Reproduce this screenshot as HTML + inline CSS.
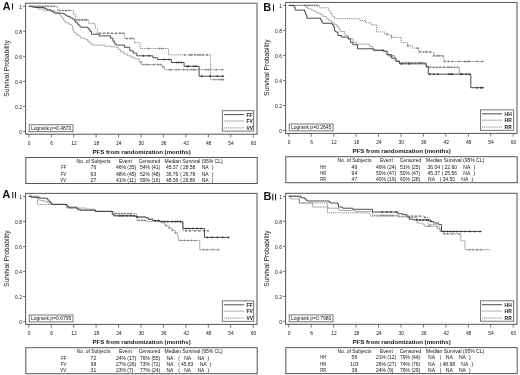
<!DOCTYPE html>
<html><head><meta charset="utf-8"><style>
html,body{margin:0;padding:0;background:#fff;}
svg{display:block;font-family:"Liberation Sans", sans-serif;filter:blur(0.3px);}
text{fill:#151515;}
</style></head><body>
<svg width="520" height="375" viewBox="0 0 520 375">
<rect width="520" height="375" fill="#fff"/>
<g transform="translate(0,0)">
<rect x="25.6" y="3.2" width="231.4" height="131.0" fill="none" stroke="#555" stroke-width="1"/>
<line x1="23.0" y1="131.30" x2="25.6" y2="131.30" stroke="#555" stroke-width="0.8"/>
<text x="21.9" y="133.50" font-size="4.9" text-anchor="end" fill="#444">0</text>
<line x1="23.0" y1="106.30" x2="25.6" y2="106.30" stroke="#555" stroke-width="0.8"/>
<text x="21.9" y="108.50" font-size="4.9" text-anchor="end" fill="#444">0.2</text>
<line x1="23.0" y1="81.30" x2="25.6" y2="81.30" stroke="#555" stroke-width="0.8"/>
<text x="21.9" y="83.50" font-size="4.9" text-anchor="end" fill="#444">0.4</text>
<line x1="23.0" y1="56.30" x2="25.6" y2="56.30" stroke="#555" stroke-width="0.8"/>
<text x="21.9" y="58.50" font-size="4.9" text-anchor="end" fill="#444">0.6</text>
<line x1="23.0" y1="31.30" x2="25.6" y2="31.30" stroke="#555" stroke-width="0.8"/>
<text x="21.9" y="33.50" font-size="4.9" text-anchor="end" fill="#444">0.8</text>
<line x1="23.0" y1="6.30" x2="25.6" y2="6.30" stroke="#555" stroke-width="0.8"/>
<text x="21.9" y="8.50" font-size="4.9" text-anchor="end" fill="#444">1</text>
<line x1="28.80" y1="134.2" x2="28.80" y2="137.5" stroke="#555" stroke-width="0.8"/>
<text x="29.10" y="144.5" font-size="4.9" text-anchor="middle" fill="#444">0</text>
<line x1="51.24" y1="134.2" x2="51.24" y2="137.5" stroke="#555" stroke-width="0.8"/>
<text x="51.54" y="144.5" font-size="4.9" text-anchor="middle" fill="#444">6</text>
<line x1="73.68" y1="134.2" x2="73.68" y2="137.5" stroke="#555" stroke-width="0.8"/>
<text x="73.98" y="144.5" font-size="4.9" text-anchor="middle" fill="#444">12</text>
<line x1="96.12" y1="134.2" x2="96.12" y2="137.5" stroke="#555" stroke-width="0.8"/>
<text x="96.42" y="144.5" font-size="4.9" text-anchor="middle" fill="#444">18</text>
<line x1="118.56" y1="134.2" x2="118.56" y2="137.5" stroke="#555" stroke-width="0.8"/>
<text x="118.86" y="144.5" font-size="4.9" text-anchor="middle" fill="#444">24</text>
<line x1="141.00" y1="134.2" x2="141.00" y2="137.5" stroke="#555" stroke-width="0.8"/>
<text x="141.30" y="144.5" font-size="4.9" text-anchor="middle" fill="#444">30</text>
<line x1="163.44" y1="134.2" x2="163.44" y2="137.5" stroke="#555" stroke-width="0.8"/>
<text x="163.74" y="144.5" font-size="4.9" text-anchor="middle" fill="#444">36</text>
<line x1="185.88" y1="134.2" x2="185.88" y2="137.5" stroke="#555" stroke-width="0.8"/>
<text x="186.18" y="144.5" font-size="4.9" text-anchor="middle" fill="#444">42</text>
<line x1="208.32" y1="134.2" x2="208.32" y2="137.5" stroke="#555" stroke-width="0.8"/>
<text x="208.62" y="144.5" font-size="4.9" text-anchor="middle" fill="#444">48</text>
<line x1="230.76" y1="134.2" x2="230.76" y2="137.5" stroke="#555" stroke-width="0.8"/>
<text x="231.06" y="144.5" font-size="4.9" text-anchor="middle" fill="#444">54</text>
<line x1="253.20" y1="134.2" x2="253.20" y2="137.5" stroke="#555" stroke-width="0.8"/>
<text x="253.50" y="144.5" font-size="4.9" text-anchor="middle" fill="#444">60</text>
<text x="141.6" y="154.1" font-size="6.1" font-weight="bold" text-anchor="middle" fill="#333">PFS from randomization (months)</text>
<text transform="translate(8.7,68.5) rotate(-90)" font-size="6.65" text-anchor="middle" fill="#333">Survival Probability</text>
<rect x="29.2" y="124.8" width="43.8" height="6.9" fill="#fff" stroke="#555" stroke-width="0.8"/>
<text x="30.9" y="130.3" font-size="5.0" fill="#333">Logrank p=0.4870</text>
<rect x="222.3" y="110.7" width="31.399999999999977" height="20.4" fill="#fff" stroke="#555" stroke-width="0.8"/>
<line x1="223.8" y1="114.6" x2="244.0" y2="114.6" stroke="#3a3a3a" stroke-width="0.9" fill="none"/>
<text x="246.5" y="116.6" font-size="4.9" font-weight="bold" fill="#333">FF</text>
<line x1="223.8" y1="121.0" x2="244.0" y2="121.0" stroke="#9a9a9a" stroke-width="0.8" fill="none"/>
<text x="246.5" y="123.0" font-size="4.9" font-weight="bold" fill="#333">FV</text>
<line x1="223.8" y1="127.9" x2="244.0" y2="127.9" stroke="#6a6a6a" stroke-width="0.8" fill="none" stroke-dasharray="1.2 0.9"/>
<text x="246.5" y="129.9" font-size="4.9" font-weight="bold" fill="#333">VV</text>
<rect x="25.8" y="157.5" width="231.4" height="26.0" fill="none" stroke="#555" stroke-width="1"/>
<text x="76.5" y="163.0" font-size="5.0" fill="#333">No. of Subjects</text>
<text x="119.0" y="163.0" font-size="5.0" fill="#333">Event</text>
<text x="138.7" y="163.0" font-size="5.0" fill="#333">Censored</text>
<text x="164.5" y="163.0" font-size="5.0" fill="#333">Median Survival (95% CL)</text>
<text x="61.30" y="169.40" font-size="5.0" textLength="5.0" lengthAdjust="spacingAndGlyphs" fill="#333">FF</text>
<text x="93.4" y="169.40" font-size="5.0" text-anchor="middle" fill="#333">76</text>
<text x="115.9" y="169.40" font-size="5.0" fill="#333">46% (35)</text>
<text x="140" y="169.40" font-size="5.0" fill="#333">54% (41)</text>
<text x="165.90" y="169.40" font-size="5.0" fill="#333">45.37</text>
<text x="180.20" y="169.40" font-size="5.0" fill="#333">(</text>
<text x="182.90" y="169.40" font-size="5.0" fill="#333">28.58</text>
<text x="201.70" y="169.40" font-size="5.0" fill="#333">NA</text>
<text x="211.80" y="169.40" font-size="5.0" fill="#333">)</text>
<text x="60.90" y="175.85" font-size="5.0" textLength="5.4" lengthAdjust="spacingAndGlyphs" fill="#333">FV</text>
<text x="93.4" y="175.85" font-size="5.0" text-anchor="middle" fill="#333">93</text>
<text x="115.9" y="175.85" font-size="5.0" fill="#333">48% (45)</text>
<text x="140" y="175.85" font-size="5.0" fill="#333">52% (48)</text>
<text x="165.90" y="175.85" font-size="5.0" fill="#333">36.76</text>
<text x="180.20" y="175.85" font-size="5.0" fill="#333">(</text>
<text x="182.90" y="175.85" font-size="5.0" fill="#333">26.78</text>
<text x="201.70" y="175.85" font-size="5.0" fill="#333">NA</text>
<text x="211.80" y="175.85" font-size="5.0" fill="#333">)</text>
<text x="60.30" y="182.30" font-size="5.0" textLength="6.0" lengthAdjust="spacingAndGlyphs" fill="#333">VV</text>
<text x="93.4" y="182.30" font-size="5.0" text-anchor="middle" fill="#333">27</text>
<text x="115.9" y="182.30" font-size="5.0" fill="#333">41% (11)</text>
<text x="140" y="182.30" font-size="5.0" fill="#333">59% (16)</text>
<text x="165.90" y="182.30" font-size="5.0" fill="#333">48.36</text>
<text x="180.20" y="182.30" font-size="5.0" fill="#333">(</text>
<text x="182.90" y="182.30" font-size="5.0" fill="#333">29.80</text>
<text x="201.70" y="182.30" font-size="5.0" fill="#333">NA</text>
<text x="211.80" y="182.30" font-size="5.0" fill="#333">)</text>
</g>
<path d="M28.80,6.30 H32.00 V7.50 H38.00 V9.00 H44.00 V10.80 H55.00 V12.00 H58.30 V13.40 H59.50 V14.50 H60.60 V15.70 H61.70 V17.50 H62.90 V19.20 H64.00 V21.00 H65.20 V22.60 H68.70 V24.30 H71.60 V25.50 H72.70 V30.10 H73.90 V32.40 H76.00 V34.70 H78.30 V35.90 H80.60 V38.20 H84.70 V39.30 H87.50 V41.10 H89.50 V43.00 H91.60 V44.50 H93.30 V45.10 H104.80 V46.30 H110.60 V46.80 H116.00 V47.30 H118.30 V49.50 H120.60 V51.90 H124.00 V54.00 H127.50 V55.80 H131.00 V57.30 H134.50 V58.80 H139.10 V62.30 H141.40 V64.60 H162.20 V66.90 H164.50 V69.70 H224.00 V69.70" stroke="#9a9a9a" stroke-width="0.8" fill="none"/>
<path d="M140.00,62.30h2.0M141.00,61.30v2.0M142.90,64.60h2.0M143.90,63.60v2.0M145.80,64.60h2.0M146.80,63.60v2.0M148.00,64.60h2.0M149.00,63.60v2.0M152.70,64.60h2.0M153.70,63.60v2.0M157.30,64.60h2.0M158.30,63.60v2.0M159.60,64.60h2.0M160.60,63.60v2.0M162.00,66.90h2.0M163.00,65.90v2.0M168.80,69.70h2.0M169.80,68.70v2.0M170.00,69.70h2.0M171.00,68.70v2.0M175.20,69.70h2.0M176.20,68.70v2.0M178.00,69.70h2.0M179.00,68.70v2.0M182.70,69.70h2.0M183.70,68.70v2.0M186.50,69.70h2.0M187.50,68.70v2.0M190.00,69.70h2.0M191.00,68.70v2.0M192.30,69.70h2.0M193.30,68.70v2.0M194.00,69.70h2.0M195.00,68.70v2.0M205.00,69.70h2.0M206.00,68.70v2.0M207.30,69.70h2.0M208.30,68.70v2.0M215.40,69.70h2.0M216.40,68.70v2.0M221.20,69.70h2.0M222.20,68.70v2.0" stroke="#888" stroke-width="0.8" fill="none"/>
<path d="M28.80,6.30 H57.60 V10.50 H73.30 V14.30 H75.60 V19.90 H88.70 V23.50 H94.50 V24.90 H95.50 V28.40 H97.30 V33.30 H124.60 V38.50 H134.50 V42.70 H140.20 V48.50 H168.50 V54.90 H210.60 V79.60 H224.00 V79.60" stroke="#6a6a6a" stroke-width="0.8" fill="none" stroke-dasharray="1.2 0.9"/>
<path d="M36.50,6.30h2.0M37.50,5.30v2.0M39.00,6.30h2.0M40.00,5.30v2.0M41.70,6.30h2.0M42.70,5.30v2.0M44.50,6.30h2.0M45.50,5.30v2.0M47.00,6.30h2.0M48.00,5.30v2.0M50.00,6.30h2.0M51.00,5.30v2.0M53.00,6.30h2.0M54.00,5.30v2.0M59.00,10.50h2.0M60.00,9.50v2.0M62.00,10.50h2.0M63.00,9.50v2.0M65.00,10.50h2.0M66.00,9.50v2.0M68.00,10.50h2.0M69.00,9.50v2.0M76.00,19.90h2.0M77.00,18.90v2.0M78.50,19.90h2.0M79.50,18.90v2.0M81.00,19.90h2.0M82.00,18.90v2.0M83.50,19.90h2.0M84.50,18.90v2.0M85.50,19.90h2.0M86.50,18.90v2.0M99.00,33.30h2.0M100.00,32.30v2.0M103.00,33.30h2.0M104.00,32.30v2.0M107.00,33.30h2.0M108.00,32.30v2.0M111.00,33.30h2.0M112.00,32.30v2.0M115.00,33.30h2.0M116.00,32.30v2.0M119.00,33.30h2.0M120.00,32.30v2.0M122.00,33.30h2.0M123.00,32.30v2.0M125.80,38.50h2.0M126.80,37.50v2.0M129.00,38.50h2.0M130.00,37.50v2.0M131.50,38.50h2.0M132.50,37.50v2.0M147.50,48.50h2.0M148.50,47.50v2.0M158.50,48.50h2.0M159.50,47.50v2.0M160.80,48.50h2.0M161.80,47.50v2.0M183.70,54.90h2.0M184.70,53.90v2.0M188.80,54.90h2.0M189.80,53.90v2.0M190.60,54.90h2.0M191.60,53.90v2.0M194.00,54.90h2.0M195.00,53.90v2.0M196.90,54.90h2.0M197.90,53.90v2.0M199.20,54.90h2.0M200.20,53.90v2.0M202.10,54.90h2.0M203.10,53.90v2.0M206.20,54.90h2.0M207.20,53.90v2.0M213.60,79.60h2.0M214.60,78.60v2.0M217.60,79.60h2.0M218.60,78.60v2.0M220.00,79.60h2.0M221.00,78.60v2.0M222.40,79.60h2.0M223.40,78.60v2.0" stroke="#777" stroke-width="0.8" fill="none"/>
<path d="M28.80,6.30 H34.90 V7.50 H44.50 V8.60 H46.80 V9.80 H51.00 V11.10 H53.00 V12.20 H54.30 V13.20 H63.40 V14.00 H65.20 V15.10 H67.00 V16.30 H69.30 V16.80 H70.40 V18.00 H72.70 V19.20 H74.50 V20.90 H75.60 V22.60 H77.30 V24.30 H79.10 V26.10 H80.80 V27.20 H88.10 V29.00 H89.80 V31.30 H91.60 V34.20 H99.10 V35.90 H110.60 V38.20 H112.90 V41.10 H114.70 V44.00 H116.40 V45.10 H124.50 V47.30 H129.80 V50.80 H133.30 V53.10 H136.80 V55.80 H152.90 V57.70 H157.50 V59.50 H171.40 V62.50 H184.10 V66.30 H199.10 V76.20 H224.00 V76.20" stroke="#3a3a3a" stroke-width="0.9" fill="none"/>
<path d="M142.30,55.80h2.0M143.30,54.80v2.0M148.10,55.80h2.0M149.10,54.80v2.0M163.00,59.50h2.0M164.00,58.50v2.0M168.30,59.50h2.0M169.30,58.50v2.0M175.80,62.50h2.0M176.80,61.50v2.0M178.00,62.50h2.0M179.00,61.50v2.0M180.40,62.50h2.0M181.40,61.50v2.0M186.00,66.30h2.0M187.00,65.30v2.0M187.50,66.30h2.0M188.50,65.30v2.0M192.70,66.30h2.0M193.70,65.30v2.0M195.00,66.30h2.0M196.00,65.30v2.0M200.70,76.20h2.0M201.70,75.20v2.0M209.00,76.20h2.0M210.00,75.20v2.0M216.30,76.20h2.0M217.30,75.20v2.0M221.60,76.20h2.0M222.60,75.20v2.0" stroke="#333" stroke-width="0.8" fill="none"/>
<g transform="translate(260,-0.8)">
<rect x="25.6" y="3.2" width="231.4" height="131.0" fill="none" stroke="#555" stroke-width="1"/>
<line x1="23.0" y1="131.30" x2="25.6" y2="131.30" stroke="#555" stroke-width="0.8"/>
<text x="21.9" y="133.50" font-size="4.9" text-anchor="end" fill="#444">0</text>
<line x1="23.0" y1="106.30" x2="25.6" y2="106.30" stroke="#555" stroke-width="0.8"/>
<text x="21.9" y="108.50" font-size="4.9" text-anchor="end" fill="#444">0.2</text>
<line x1="23.0" y1="81.30" x2="25.6" y2="81.30" stroke="#555" stroke-width="0.8"/>
<text x="21.9" y="83.50" font-size="4.9" text-anchor="end" fill="#444">0.4</text>
<line x1="23.0" y1="56.30" x2="25.6" y2="56.30" stroke="#555" stroke-width="0.8"/>
<text x="21.9" y="58.50" font-size="4.9" text-anchor="end" fill="#444">0.6</text>
<line x1="23.0" y1="31.30" x2="25.6" y2="31.30" stroke="#555" stroke-width="0.8"/>
<text x="21.9" y="33.50" font-size="4.9" text-anchor="end" fill="#444">0.8</text>
<line x1="23.0" y1="6.30" x2="25.6" y2="6.30" stroke="#555" stroke-width="0.8"/>
<text x="21.9" y="8.50" font-size="4.9" text-anchor="end" fill="#444">1</text>
<line x1="28.80" y1="134.2" x2="28.80" y2="137.5" stroke="#555" stroke-width="0.8"/>
<text x="29.10" y="144.5" font-size="4.9" text-anchor="middle" fill="#444">0</text>
<line x1="51.24" y1="134.2" x2="51.24" y2="137.5" stroke="#555" stroke-width="0.8"/>
<text x="51.54" y="144.5" font-size="4.9" text-anchor="middle" fill="#444">6</text>
<line x1="73.68" y1="134.2" x2="73.68" y2="137.5" stroke="#555" stroke-width="0.8"/>
<text x="73.98" y="144.5" font-size="4.9" text-anchor="middle" fill="#444">12</text>
<line x1="96.12" y1="134.2" x2="96.12" y2="137.5" stroke="#555" stroke-width="0.8"/>
<text x="96.42" y="144.5" font-size="4.9" text-anchor="middle" fill="#444">18</text>
<line x1="118.56" y1="134.2" x2="118.56" y2="137.5" stroke="#555" stroke-width="0.8"/>
<text x="118.86" y="144.5" font-size="4.9" text-anchor="middle" fill="#444">24</text>
<line x1="141.00" y1="134.2" x2="141.00" y2="137.5" stroke="#555" stroke-width="0.8"/>
<text x="141.30" y="144.5" font-size="4.9" text-anchor="middle" fill="#444">30</text>
<line x1="163.44" y1="134.2" x2="163.44" y2="137.5" stroke="#555" stroke-width="0.8"/>
<text x="163.74" y="144.5" font-size="4.9" text-anchor="middle" fill="#444">36</text>
<line x1="185.88" y1="134.2" x2="185.88" y2="137.5" stroke="#555" stroke-width="0.8"/>
<text x="186.18" y="144.5" font-size="4.9" text-anchor="middle" fill="#444">42</text>
<line x1="208.32" y1="134.2" x2="208.32" y2="137.5" stroke="#555" stroke-width="0.8"/>
<text x="208.62" y="144.5" font-size="4.9" text-anchor="middle" fill="#444">48</text>
<line x1="230.76" y1="134.2" x2="230.76" y2="137.5" stroke="#555" stroke-width="0.8"/>
<text x="231.06" y="144.5" font-size="4.9" text-anchor="middle" fill="#444">54</text>
<line x1="253.20" y1="134.2" x2="253.20" y2="137.5" stroke="#555" stroke-width="0.8"/>
<text x="253.50" y="144.5" font-size="4.9" text-anchor="middle" fill="#444">60</text>
<text x="141.6" y="154.1" font-size="6.1" font-weight="bold" text-anchor="middle" fill="#333">PFS from randomization (months)</text>
<text transform="translate(8.7,68.5) rotate(-90)" font-size="6.65" text-anchor="middle" fill="#333">Survival Probability</text>
<rect x="29.2" y="124.8" width="43.8" height="6.9" fill="#fff" stroke="#555" stroke-width="0.8"/>
<text x="30.9" y="130.3" font-size="5.0" fill="#333">Logrank p=0.2645</text>
<rect x="220.4" y="110.7" width="33.29999999999998" height="20.4" fill="#fff" stroke="#555" stroke-width="0.8"/>
<line x1="221.9" y1="114.6" x2="242.1" y2="114.6" stroke="#3a3a3a" stroke-width="0.9" fill="none"/>
<text x="244.6" y="116.6" font-size="4.9" font-weight="bold" fill="#333">HH</text>
<line x1="221.9" y1="121.0" x2="242.1" y2="121.0" stroke="#9a9a9a" stroke-width="0.8" fill="none"/>
<text x="244.6" y="123.0" font-size="4.9" font-weight="bold" fill="#333">HR</text>
<line x1="221.9" y1="127.9" x2="242.1" y2="127.9" stroke="#6a6a6a" stroke-width="0.8" fill="none" stroke-dasharray="1.2 0.9"/>
<text x="244.6" y="129.9" font-size="4.9" font-weight="bold" fill="#333">RR</text>
<rect x="25.8" y="157.5" width="231.4" height="26.0" fill="none" stroke="#555" stroke-width="1"/>
<text x="77.5" y="163.0" font-size="5.0" fill="#333">No. of Subjects</text>
<text x="120.0" y="163.0" font-size="5.0" fill="#333">Event</text>
<text x="139.7" y="163.0" font-size="5.0" fill="#333">Censored</text>
<text x="166.0" y="163.0" font-size="5.0" fill="#333">Median Survival (95% CL)</text>
<text x="60.30" y="169.40" font-size="5.0" textLength="6.0" lengthAdjust="spacingAndGlyphs" fill="#333">HH</text>
<text x="94.4" y="169.40" font-size="5.0" text-anchor="middle" fill="#333">49</text>
<text x="115.9" y="169.40" font-size="5.0" fill="#333">49% (24)</text>
<text x="140" y="169.40" font-size="5.0" fill="#333">51% (25)</text>
<text x="167.50" y="169.40" font-size="5.0" fill="#333">36.04</text>
<text x="181.80" y="169.40" font-size="5.0" fill="#333">(</text>
<text x="184.50" y="169.40" font-size="5.0" fill="#333">22.60</text>
<text x="203.30" y="169.40" font-size="5.0" fill="#333">NA</text>
<text x="213.40" y="169.40" font-size="5.0" fill="#333">)</text>
<text x="60.30" y="175.85" font-size="5.0" textLength="6.0" lengthAdjust="spacingAndGlyphs" fill="#333">HR</text>
<text x="94.4" y="175.85" font-size="5.0" text-anchor="middle" fill="#333">94</text>
<text x="115.9" y="175.85" font-size="5.0" fill="#333">50% (47)</text>
<text x="140" y="175.85" font-size="5.0" fill="#333">50% (47)</text>
<text x="167.50" y="175.85" font-size="5.0" fill="#333">45.37</text>
<text x="181.80" y="175.85" font-size="5.0" fill="#333">(</text>
<text x="184.50" y="175.85" font-size="5.0" fill="#333">25.56</text>
<text x="203.30" y="175.85" font-size="5.0" fill="#333">NA</text>
<text x="213.40" y="175.85" font-size="5.0" fill="#333">)</text>
<text x="60.30" y="182.30" font-size="5.0" textLength="6.0" lengthAdjust="spacingAndGlyphs" fill="#333">RR</text>
<text x="94.4" y="182.30" font-size="5.0" text-anchor="middle" fill="#333">47</text>
<text x="115.9" y="182.30" font-size="5.0" fill="#333">40% (19)</text>
<text x="140" y="182.30" font-size="5.0" fill="#333">60% (28)</text>
<text x="168.10" y="182.30" font-size="5.0" fill="#333">NA</text>
<text x="179.80" y="182.30" font-size="5.0" fill="#333">(</text>
<text x="182.50" y="182.30" font-size="5.0" fill="#333">34.50</text>
<text x="201.30" y="182.30" font-size="5.0" fill="#333">NA</text>
<text x="211.40" y="182.30" font-size="5.0" fill="#333">)</text>
</g>
<path d="M288.80,5.40 H304.50 V5.40 H305.60 V7.20 H307.90 V8.90 H311.40 V10.10 H313.70 V11.20 H316.00 V12.40 H318.30 V13.50 H320.60 V14.70 H322.90 V16.40 H326.40 V18.70 H328.70 V20.50 H331.00 V21.60 H332.20 V22.80 H334.50 V24.50 H336.80 V26.80 H339.10 V29.70 H340.20 V31.50 H344.80 V35.50 H348.30 V38.90 H352.90 V42.40 H356.40 V44.20 H369.50 V46.50 H372.90 V50.00 H383.30 V51.20 H387.90 V55.80 H394.80 V60.40 H399.50 V62.70 H426.00 V67.30 H459.30 V74.00 H462.00 V74.00" stroke="#9a9a9a" stroke-width="0.8" fill="none"/>
<path d="M382.00,50.00h2.0M383.00,49.00v2.0M389.00,55.80h2.0M390.00,54.80v2.0M392.00,55.80h2.0M393.00,54.80v2.0M402.00,62.70h2.0M403.00,61.70v2.0M405.00,62.70h2.0M406.00,61.70v2.0M408.00,62.70h2.0M409.00,61.70v2.0M411.00,62.70h2.0M412.00,61.70v2.0M414.40,62.70h2.0M415.40,61.70v2.0M418.20,62.70h2.0M419.20,61.70v2.0M419.80,62.70h2.0M420.80,61.70v2.0M421.30,62.70h2.0M422.30,61.70v2.0M429.00,67.30h2.0M430.00,66.30v2.0M432.80,67.30h2.0M433.80,66.30v2.0M435.90,67.30h2.0M436.90,66.30v2.0M439.00,67.30h2.0M440.00,66.30v2.0M442.80,67.30h2.0M443.80,66.30v2.0M446.70,67.30h2.0M447.70,66.30v2.0M448.20,67.30h2.0M449.20,66.30v2.0M450.50,67.30h2.0M451.50,66.30v2.0M453.60,67.30h2.0M454.60,66.30v2.0M456.70,67.30h2.0M457.70,66.30v2.0" stroke="#888" stroke-width="0.8" fill="none"/>
<path d="M288.80,5.40 H319.50 V7.80 H328.70 V10.70 H330.40 V13.50 H332.20 V16.40 H334.50 V18.70 H359.80 V20.50 H365.60 V22.80 H371.40 V24.80 H376.60 V31.90 H384.60 V34.20 H387.00 V35.00 H391.50 V37.30 H401.20 V42.70 H407.70 V45.80 H412.30 V48.10 H418.50 V51.90 H431.50 V52.40 H433.80 V55.80 H443.80 V61.50 H483.70 V61.50" stroke="#6a6a6a" stroke-width="0.8" fill="none" stroke-dasharray="1.2 0.9"/>
<path d="M303.50,5.40h2.0M304.50,4.40v2.0M306.00,5.40h2.0M307.00,4.40v2.0M308.50,5.40h2.0M309.50,4.40v2.0M311.00,5.40h2.0M312.00,4.40v2.0M313.50,5.40h2.0M314.50,4.40v2.0M316.00,5.40h2.0M317.00,4.40v2.0M385.90,34.20h2.0M386.90,33.20v2.0M390.50,37.30h2.0M391.50,36.30v2.0M406.70,45.80h2.0M407.70,44.80v2.0M416.70,48.10h2.0M417.70,47.10v2.0M419.00,51.90h2.0M420.00,50.90v2.0M422.80,51.90h2.0M423.80,50.90v2.0M425.50,51.90h2.0M426.50,50.90v2.0M429.00,51.90h2.0M430.00,50.90v2.0M432.80,55.80h2.0M433.80,54.80v2.0M435.90,55.80h2.0M436.90,54.80v2.0M438.20,55.80h2.0M439.20,54.80v2.0M441.30,55.80h2.0M442.30,54.80v2.0M443.60,61.50h2.0M444.60,60.50v2.0M447.50,61.50h2.0M448.50,60.50v2.0M451.30,61.50h2.0M452.30,60.50v2.0M458.20,61.50h2.0M459.20,60.50v2.0M463.60,61.50h2.0M464.60,60.50v2.0M465.90,61.50h2.0M466.90,60.50v2.0M468.20,61.50h2.0M469.20,60.50v2.0M475.90,61.50h2.0M476.90,60.50v2.0M481.30,61.50h2.0M482.30,60.50v2.0" stroke="#777" stroke-width="0.8" fill="none"/>
<path d="M288.80,5.40 H294.10 V7.20 H295.20 V10.10 H304.50 V11.80 H305.60 V14.70 H306.80 V18.20 H320.60 V19.90 H321.80 V22.20 H322.90 V23.30 H332.20 V24.50 H333.30 V26.80 H334.50 V30.80 H335.60 V32.00 H337.90 V35.50 H341.40 V37.10 H348.30 V38.90 H350.60 V42.40 H352.90 V44.70 H357.50 V48.80 H373.80 V50.40 H383.30 V51.20 H386.80 V54.60 H391.40 V58.10 H396.00 V61.50 H399.50 V63.80 H426.20 V66.50 H428.30 V74.20 H470.80 V87.70 H483.80 V87.70" stroke="#3a3a3a" stroke-width="0.9" fill="none"/>
<path d="M400.50,63.80h2.0M401.50,62.80v2.0M408.20,63.80h2.0M409.20,62.80v2.0M429.00,74.20h2.0M430.00,73.20v2.0M432.80,74.20h2.0M433.80,73.20v2.0M436.70,74.20h2.0M437.70,73.20v2.0M447.50,74.20h2.0M448.50,73.20v2.0M449.80,74.20h2.0M450.80,73.20v2.0M451.30,74.20h2.0M452.30,73.20v2.0M459.80,74.20h2.0M460.80,73.20v2.0M461.30,74.20h2.0M462.30,73.20v2.0M465.20,74.20h2.0M466.20,73.20v2.0M468.20,74.20h2.0M469.20,73.20v2.0M475.90,87.70h2.0M476.90,86.70v2.0M479.80,87.70h2.0M480.80,86.70v2.0M481.30,87.70h2.0M482.30,86.70v2.0" stroke="#333" stroke-width="0.8" fill="none"/>
<g transform="translate(0,190.2)">
<rect x="25.6" y="3.2" width="231.4" height="131.0" fill="none" stroke="#555" stroke-width="1"/>
<line x1="23.0" y1="131.30" x2="25.6" y2="131.30" stroke="#555" stroke-width="0.8"/>
<text x="21.9" y="133.50" font-size="4.9" text-anchor="end" fill="#444">0</text>
<line x1="23.0" y1="106.30" x2="25.6" y2="106.30" stroke="#555" stroke-width="0.8"/>
<text x="21.9" y="108.50" font-size="4.9" text-anchor="end" fill="#444">0.2</text>
<line x1="23.0" y1="81.30" x2="25.6" y2="81.30" stroke="#555" stroke-width="0.8"/>
<text x="21.9" y="83.50" font-size="4.9" text-anchor="end" fill="#444">0.4</text>
<line x1="23.0" y1="56.30" x2="25.6" y2="56.30" stroke="#555" stroke-width="0.8"/>
<text x="21.9" y="58.50" font-size="4.9" text-anchor="end" fill="#444">0.6</text>
<line x1="23.0" y1="31.30" x2="25.6" y2="31.30" stroke="#555" stroke-width="0.8"/>
<text x="21.9" y="33.50" font-size="4.9" text-anchor="end" fill="#444">0.8</text>
<line x1="23.0" y1="6.30" x2="25.6" y2="6.30" stroke="#555" stroke-width="0.8"/>
<text x="21.9" y="8.50" font-size="4.9" text-anchor="end" fill="#444">1</text>
<line x1="28.80" y1="134.2" x2="28.80" y2="137.5" stroke="#555" stroke-width="0.8"/>
<text x="29.10" y="144.5" font-size="4.9" text-anchor="middle" fill="#444">0</text>
<line x1="51.24" y1="134.2" x2="51.24" y2="137.5" stroke="#555" stroke-width="0.8"/>
<text x="51.54" y="144.5" font-size="4.9" text-anchor="middle" fill="#444">6</text>
<line x1="73.68" y1="134.2" x2="73.68" y2="137.5" stroke="#555" stroke-width="0.8"/>
<text x="73.98" y="144.5" font-size="4.9" text-anchor="middle" fill="#444">12</text>
<line x1="96.12" y1="134.2" x2="96.12" y2="137.5" stroke="#555" stroke-width="0.8"/>
<text x="96.42" y="144.5" font-size="4.9" text-anchor="middle" fill="#444">18</text>
<line x1="118.56" y1="134.2" x2="118.56" y2="137.5" stroke="#555" stroke-width="0.8"/>
<text x="118.86" y="144.5" font-size="4.9" text-anchor="middle" fill="#444">24</text>
<line x1="141.00" y1="134.2" x2="141.00" y2="137.5" stroke="#555" stroke-width="0.8"/>
<text x="141.30" y="144.5" font-size="4.9" text-anchor="middle" fill="#444">30</text>
<line x1="163.44" y1="134.2" x2="163.44" y2="137.5" stroke="#555" stroke-width="0.8"/>
<text x="163.74" y="144.5" font-size="4.9" text-anchor="middle" fill="#444">36</text>
<line x1="185.88" y1="134.2" x2="185.88" y2="137.5" stroke="#555" stroke-width="0.8"/>
<text x="186.18" y="144.5" font-size="4.9" text-anchor="middle" fill="#444">42</text>
<line x1="208.32" y1="134.2" x2="208.32" y2="137.5" stroke="#555" stroke-width="0.8"/>
<text x="208.62" y="144.5" font-size="4.9" text-anchor="middle" fill="#444">48</text>
<line x1="230.76" y1="134.2" x2="230.76" y2="137.5" stroke="#555" stroke-width="0.8"/>
<text x="231.06" y="144.5" font-size="4.9" text-anchor="middle" fill="#444">54</text>
<line x1="253.20" y1="134.2" x2="253.20" y2="137.5" stroke="#555" stroke-width="0.8"/>
<text x="253.50" y="144.5" font-size="4.9" text-anchor="middle" fill="#444">60</text>
<text x="141.6" y="154.1" font-size="6.1" font-weight="bold" text-anchor="middle" fill="#333">PFS from randomization (months)</text>
<text transform="translate(8.7,68.5) rotate(-90)" font-size="6.65" text-anchor="middle" fill="#333">Survival Probability</text>
<rect x="29.2" y="124.8" width="43.8" height="6.9" fill="#fff" stroke="#555" stroke-width="0.8"/>
<text x="30.9" y="130.3" font-size="5.0" fill="#333">Logrank p=0.6795</text>
<rect x="222.3" y="110.7" width="31.399999999999977" height="20.4" fill="#fff" stroke="#555" stroke-width="0.8"/>
<line x1="223.8" y1="114.6" x2="244.0" y2="114.6" stroke="#3a3a3a" stroke-width="0.9" fill="none"/>
<text x="246.5" y="116.6" font-size="4.9" font-weight="bold" fill="#333">FF</text>
<line x1="223.8" y1="121.0" x2="244.0" y2="121.0" stroke="#9a9a9a" stroke-width="0.8" fill="none"/>
<text x="246.5" y="123.0" font-size="4.9" font-weight="bold" fill="#333">FV</text>
<line x1="223.8" y1="127.9" x2="244.0" y2="127.9" stroke="#6a6a6a" stroke-width="0.8" fill="none" stroke-dasharray="1.2 0.9"/>
<text x="246.5" y="129.9" font-size="4.9" font-weight="bold" fill="#333">VV</text>
<rect x="25.8" y="157.5" width="231.4" height="26.0" fill="none" stroke="#555" stroke-width="1"/>
<text x="76.5" y="163.0" font-size="5.0" fill="#333">No. of Subjects</text>
<text x="119.0" y="163.0" font-size="5.0" fill="#333">Event</text>
<text x="138.7" y="163.0" font-size="5.0" fill="#333">Censored</text>
<text x="164.5" y="163.0" font-size="5.0" fill="#333">Median Survival (95% CL)</text>
<text x="61.30" y="169.40" font-size="5.0" textLength="5.0" lengthAdjust="spacingAndGlyphs" fill="#333">FF</text>
<text x="93.4" y="169.40" font-size="5.0" text-anchor="middle" fill="#333">72</text>
<text x="115.9" y="169.40" font-size="5.0" fill="#333">24% (17)</text>
<text x="140" y="169.40" font-size="5.0" fill="#333">76% (55)</text>
<text x="166.50" y="169.40" font-size="5.0" fill="#333">NA</text>
<text x="178.20" y="169.40" font-size="5.0" fill="#333">(</text>
<text x="184.20" y="169.40" font-size="5.0" fill="#333">NA</text>
<text x="197.40" y="169.40" font-size="5.0" fill="#333">NA</text>
<text x="207.50" y="169.40" font-size="5.0" fill="#333">)</text>
<text x="60.90" y="175.85" font-size="5.0" textLength="5.4" lengthAdjust="spacingAndGlyphs" fill="#333">FV</text>
<text x="93.4" y="175.85" font-size="5.0" text-anchor="middle" fill="#333">98</text>
<text x="115.9" y="175.85" font-size="5.0" fill="#333">27% (26)</text>
<text x="140" y="175.85" font-size="5.0" fill="#333">73% (72)</text>
<text x="166.50" y="175.85" font-size="5.0" fill="#333">NA</text>
<text x="178.20" y="175.85" font-size="5.0" fill="#333">(</text>
<text x="180.90" y="175.85" font-size="5.0" fill="#333">45.83</text>
<text x="199.70" y="175.85" font-size="5.0" fill="#333">NA</text>
<text x="209.80" y="175.85" font-size="5.0" fill="#333">)</text>
<text x="60.30" y="182.30" font-size="5.0" textLength="6.0" lengthAdjust="spacingAndGlyphs" fill="#333">VV</text>
<text x="93.4" y="182.30" font-size="5.0" text-anchor="middle" fill="#333">31</text>
<text x="115.9" y="182.30" font-size="5.0" fill="#333">23% (7)</text>
<text x="140" y="182.30" font-size="5.0" fill="#333">77% (24)</text>
<text x="166.50" y="182.30" font-size="5.0" fill="#333">NA</text>
<text x="178.20" y="182.30" font-size="5.0" fill="#333">(</text>
<text x="184.20" y="182.30" font-size="5.0" fill="#333">NA</text>
<text x="197.40" y="182.30" font-size="5.0" fill="#333">NA</text>
<text x="207.50" y="182.30" font-size="5.0" fill="#333">)</text>
</g>
<path d="M28.80,196.20 H38.70 V199.90 H40.40 V200.50 H44.50 V201.70 H47.90 V202.80 H51.40 V204.00 H66.00 V205.50 H67.50 V206.80 H76.80 V208.00 H86.00 V209.20 H95.20 V211.00 H112.00 V213.00 H114.00 V215.80 H134.50 V216.10 H136.80 V217.00 H146.00 V217.70 H148.30 V219.30 H152.90 V220.70 H159.80 V221.60 H162.00 V222.90 H164.00 V224.20 H166.20 V225.80 H169.20 V228.10 H172.30 V230.40 H175.40 V232.70 H177.50 V236.00 H178.50 V240.50 H199.80 V249.70 H219.10 V249.70" stroke="#9a9a9a" stroke-width="0.8" fill="none"/>
<path d="M165.20,225.80h2.0M166.20,224.80v2.0M168.20,228.10h2.0M169.20,227.10v2.0M171.30,230.40h2.0M172.30,229.40v2.0M174.40,232.70h2.0M175.40,231.70v2.0M180.00,240.50h2.0M181.00,239.50v2.0M183.50,240.50h2.0M184.50,239.50v2.0M187.00,240.50h2.0M188.00,239.50v2.0M190.50,240.50h2.0M191.50,239.50v2.0M194.00,240.50h2.0M195.00,239.50v2.0M202.50,249.70h2.0M203.50,248.70v2.0M206.00,249.70h2.0M207.00,248.70v2.0M212.00,249.70h2.0M213.00,248.70v2.0M217.50,249.70h2.0M218.50,248.70v2.0" stroke="#888" stroke-width="0.8" fill="none"/>
<path d="M28.80,196.20 H37.50 V204.50 H66.40 V208.00 H77.90 V210.30 H95.20 V211.50 H114.60 V213.60 H136.90 V220.40 H146.20 V221.40 H182.90 V230.80 H208.60 V230.80" stroke="#6a6a6a" stroke-width="0.8" fill="none" stroke-dasharray="1.2 0.9"/>
<path d="M115.00,213.60h2.0M116.00,212.60v2.0M118.00,213.60h2.0M119.00,212.60v2.0M121.00,213.60h2.0M122.00,212.60v2.0M124.00,213.60h2.0M125.00,212.60v2.0M127.00,213.60h2.0M128.00,212.60v2.0M130.00,213.60h2.0M131.00,212.60v2.0M138.00,220.40h2.0M139.00,219.40v2.0M141.00,220.40h2.0M142.00,219.40v2.0M144.00,220.40h2.0M145.00,219.40v2.0M185.00,230.80h2.0M186.00,229.80v2.0M189.00,230.80h2.0M190.00,229.80v2.0M194.00,230.80h2.0M195.00,229.80v2.0M198.00,230.80h2.0M199.00,229.80v2.0M203.00,230.80h2.0M204.00,229.80v2.0M207.00,230.80h2.0M208.00,229.80v2.0" stroke="#777" stroke-width="0.8" fill="none"/>
<path d="M28.80,196.20 H31.20 V197.40 H39.80 V198.20 H47.30 V199.90 H49.10 V201.70 H50.80 V203.40 H52.00 V204.50 H67.00 V206.30 H68.70 V207.80 H77.30 V209.20 H80.20 V210.10 H95.20 V211.50 H112.30 V214.50 H113.80 V215.80 H134.50 V216.10 H136.80 V217.00 H146.00 V217.70 H148.30 V219.30 H152.90 V220.70 H159.80 V221.60 H181.80 V222.30 H182.90 V228.50 H204.50 V237.40 H229.10 V237.40" stroke="#3a3a3a" stroke-width="0.9" fill="none"/>
<path d="M119.00,215.80h2.0M120.00,214.80v2.0M122.00,215.80h2.0M123.00,214.80v2.0M125.90,215.80h2.0M126.90,214.80v2.0M129.80,215.80h2.0M130.80,214.80v2.0M132.80,215.80h2.0M133.80,214.80v2.0M135.90,217.00h2.0M136.90,216.00v2.0M154.40,220.70h2.0M155.40,219.70v2.0M157.50,220.70h2.0M158.50,219.70v2.0M160.50,221.60h2.0M161.50,220.60v2.0M163.60,221.60h2.0M164.60,220.60v2.0M166.70,221.60h2.0M167.70,220.60v2.0M171.30,221.60h2.0M172.30,220.60v2.0M174.40,221.60h2.0M175.40,220.60v2.0M176.70,221.60h2.0M177.70,220.60v2.0M179.50,221.60h2.0M180.50,220.60v2.0M185.00,228.50h2.0M186.00,227.50v2.0M188.00,228.50h2.0M189.00,227.50v2.0M192.00,228.50h2.0M193.00,227.50v2.0M196.00,228.50h2.0M197.00,227.50v2.0M200.00,228.50h2.0M201.00,227.50v2.0M206.50,237.40h2.0M207.50,236.40v2.0M211.00,237.40h2.0M212.00,236.40v2.0M216.30,237.40h2.0M217.30,236.40v2.0M221.60,237.40h2.0M222.60,236.40v2.0M227.50,237.40h2.0M228.50,236.40v2.0" stroke="#333" stroke-width="0.8" fill="none"/>
<g transform="translate(260,190.1)">
<rect x="25.6" y="3.2" width="231.4" height="131.0" fill="none" stroke="#555" stroke-width="1"/>
<line x1="23.0" y1="131.30" x2="25.6" y2="131.30" stroke="#555" stroke-width="0.8"/>
<text x="21.9" y="133.50" font-size="4.9" text-anchor="end" fill="#444">0</text>
<line x1="23.0" y1="106.30" x2="25.6" y2="106.30" stroke="#555" stroke-width="0.8"/>
<text x="21.9" y="108.50" font-size="4.9" text-anchor="end" fill="#444">0.2</text>
<line x1="23.0" y1="81.30" x2="25.6" y2="81.30" stroke="#555" stroke-width="0.8"/>
<text x="21.9" y="83.50" font-size="4.9" text-anchor="end" fill="#444">0.4</text>
<line x1="23.0" y1="56.30" x2="25.6" y2="56.30" stroke="#555" stroke-width="0.8"/>
<text x="21.9" y="58.50" font-size="4.9" text-anchor="end" fill="#444">0.6</text>
<line x1="23.0" y1="31.30" x2="25.6" y2="31.30" stroke="#555" stroke-width="0.8"/>
<text x="21.9" y="33.50" font-size="4.9" text-anchor="end" fill="#444">0.8</text>
<line x1="23.0" y1="6.30" x2="25.6" y2="6.30" stroke="#555" stroke-width="0.8"/>
<text x="21.9" y="8.50" font-size="4.9" text-anchor="end" fill="#444">1</text>
<line x1="28.80" y1="134.2" x2="28.80" y2="137.5" stroke="#555" stroke-width="0.8"/>
<text x="29.10" y="144.5" font-size="4.9" text-anchor="middle" fill="#444">0</text>
<line x1="51.24" y1="134.2" x2="51.24" y2="137.5" stroke="#555" stroke-width="0.8"/>
<text x="51.54" y="144.5" font-size="4.9" text-anchor="middle" fill="#444">6</text>
<line x1="73.68" y1="134.2" x2="73.68" y2="137.5" stroke="#555" stroke-width="0.8"/>
<text x="73.98" y="144.5" font-size="4.9" text-anchor="middle" fill="#444">12</text>
<line x1="96.12" y1="134.2" x2="96.12" y2="137.5" stroke="#555" stroke-width="0.8"/>
<text x="96.42" y="144.5" font-size="4.9" text-anchor="middle" fill="#444">18</text>
<line x1="118.56" y1="134.2" x2="118.56" y2="137.5" stroke="#555" stroke-width="0.8"/>
<text x="118.86" y="144.5" font-size="4.9" text-anchor="middle" fill="#444">24</text>
<line x1="141.00" y1="134.2" x2="141.00" y2="137.5" stroke="#555" stroke-width="0.8"/>
<text x="141.30" y="144.5" font-size="4.9" text-anchor="middle" fill="#444">30</text>
<line x1="163.44" y1="134.2" x2="163.44" y2="137.5" stroke="#555" stroke-width="0.8"/>
<text x="163.74" y="144.5" font-size="4.9" text-anchor="middle" fill="#444">36</text>
<line x1="185.88" y1="134.2" x2="185.88" y2="137.5" stroke="#555" stroke-width="0.8"/>
<text x="186.18" y="144.5" font-size="4.9" text-anchor="middle" fill="#444">42</text>
<line x1="208.32" y1="134.2" x2="208.32" y2="137.5" stroke="#555" stroke-width="0.8"/>
<text x="208.62" y="144.5" font-size="4.9" text-anchor="middle" fill="#444">48</text>
<line x1="230.76" y1="134.2" x2="230.76" y2="137.5" stroke="#555" stroke-width="0.8"/>
<text x="231.06" y="144.5" font-size="4.9" text-anchor="middle" fill="#444">54</text>
<line x1="253.20" y1="134.2" x2="253.20" y2="137.5" stroke="#555" stroke-width="0.8"/>
<text x="253.50" y="144.5" font-size="4.9" text-anchor="middle" fill="#444">60</text>
<text x="141.6" y="154.1" font-size="6.1" font-weight="bold" text-anchor="middle" fill="#333">PFS from randomization (months)</text>
<text transform="translate(8.7,68.5) rotate(-90)" font-size="6.65" text-anchor="middle" fill="#333">Survival Probability</text>
<rect x="29.2" y="124.8" width="43.8" height="6.9" fill="#fff" stroke="#555" stroke-width="0.8"/>
<text x="30.9" y="130.3" font-size="5.0" fill="#333">Logrank p=0.7980</text>
<rect x="220.4" y="110.7" width="33.29999999999998" height="20.4" fill="#fff" stroke="#555" stroke-width="0.8"/>
<line x1="221.9" y1="114.6" x2="242.1" y2="114.6" stroke="#3a3a3a" stroke-width="0.9" fill="none"/>
<text x="244.6" y="116.6" font-size="4.9" font-weight="bold" fill="#333">HH</text>
<line x1="221.9" y1="121.0" x2="242.1" y2="121.0" stroke="#9a9a9a" stroke-width="0.8" fill="none"/>
<text x="244.6" y="123.0" font-size="4.9" font-weight="bold" fill="#333">HR</text>
<line x1="221.9" y1="127.9" x2="242.1" y2="127.9" stroke="#6a6a6a" stroke-width="0.8" fill="none" stroke-dasharray="1.2 0.9"/>
<text x="244.6" y="129.9" font-size="4.9" font-weight="bold" fill="#333">RR</text>
<rect x="25.8" y="157.5" width="231.4" height="26.0" fill="none" stroke="#555" stroke-width="1"/>
<text x="77.5" y="163.0" font-size="5.0" fill="#333">No. of Subjects</text>
<text x="120.0" y="163.0" font-size="5.0" fill="#333">Event</text>
<text x="139.7" y="163.0" font-size="5.0" fill="#333">Censored</text>
<text x="166.0" y="163.0" font-size="5.0" fill="#333">Median Survival (95% CL)</text>
<text x="60.30" y="169.40" font-size="5.0" textLength="6.0" lengthAdjust="spacingAndGlyphs" fill="#333">HH</text>
<text x="94.4" y="169.40" font-size="5.0" text-anchor="middle" fill="#333">56</text>
<text x="115.9" y="169.40" font-size="5.0" fill="#333">21% (12)</text>
<text x="140" y="169.40" font-size="5.0" fill="#333">79% (44)</text>
<text x="168.10" y="169.40" font-size="5.0" fill="#333">NA</text>
<text x="179.80" y="169.40" font-size="5.0" fill="#333">(</text>
<text x="185.80" y="169.40" font-size="5.0" fill="#333">NA</text>
<text x="199.00" y="169.40" font-size="5.0" fill="#333">NA</text>
<text x="209.10" y="169.40" font-size="5.0" fill="#333">)</text>
<text x="60.30" y="175.85" font-size="5.0" textLength="6.0" lengthAdjust="spacingAndGlyphs" fill="#333">HR</text>
<text x="94.4" y="175.85" font-size="5.0" text-anchor="middle" fill="#333">103</text>
<text x="115.9" y="175.85" font-size="5.0" fill="#333">26% (27)</text>
<text x="140" y="175.85" font-size="5.0" fill="#333">74% (76)</text>
<text x="168.10" y="175.85" font-size="5.0" fill="#333">NA</text>
<text x="179.80" y="175.85" font-size="5.0" fill="#333">(</text>
<text x="182.50" y="175.85" font-size="5.0" fill="#333">48.98</text>
<text x="201.30" y="175.85" font-size="5.0" fill="#333">NA</text>
<text x="211.40" y="175.85" font-size="5.0" fill="#333">)</text>
<text x="60.30" y="182.30" font-size="5.0" textLength="6.0" lengthAdjust="spacingAndGlyphs" fill="#333">RR</text>
<text x="94.4" y="182.30" font-size="5.0" text-anchor="middle" fill="#333">38</text>
<text x="115.9" y="182.30" font-size="5.0" fill="#333">24% (9)</text>
<text x="140" y="182.30" font-size="5.0" fill="#333">76% (29)</text>
<text x="168.10" y="182.30" font-size="5.0" fill="#333">NA</text>
<text x="179.80" y="182.30" font-size="5.0" fill="#333">(</text>
<text x="185.80" y="182.30" font-size="5.0" fill="#333">NA</text>
<text x="199.00" y="182.30" font-size="5.0" fill="#333">NA</text>
<text x="209.10" y="182.30" font-size="5.0" fill="#333">)</text>
</g>
<path d="M288.80,196.20 H290.60 V198.90 H299.30 V203.00 H312.50 V207.00 H328.00 V208.20 H339.10 V210.50 H355.20 V211.60 H372.50 V215.40 H398.50 V216.90 H407.70 V217.70 H416.90 V223.10 H423.10 V224.60 H424.60 V226.20 H436.90 V228.50 H440.00 V230.80 H443.10 V233.80 H460.80 V240.80 H465.00 V249.70 H490.00 V249.70" stroke="#9a9a9a" stroke-width="0.8" fill="none"/>
<path d="M380.50,215.40h2.0M381.50,214.40v2.0M382.80,215.40h2.0M383.80,214.40v2.0M385.90,215.40h2.0M386.90,214.40v2.0M389.00,215.40h2.0M390.00,214.40v2.0M391.30,215.40h2.0M392.30,214.40v2.0M426.70,226.20h2.0M427.70,225.20v2.0M429.00,226.20h2.0M430.00,225.20v2.0M443.60,233.80h2.0M444.60,232.80v2.0M446.70,233.80h2.0M447.70,232.80v2.0M451.30,233.80h2.0M452.30,232.80v2.0M458.00,233.80h2.0M459.00,232.80v2.0M468.50,249.70h2.0M469.50,248.70v2.0M472.00,249.70h2.0M473.00,248.70v2.0M476.00,249.70h2.0M477.00,248.70v2.0M480.00,249.70h2.0M481.00,248.70v2.0" stroke="#888" stroke-width="0.8" fill="none"/>
<path d="M288.80,196.20 H299.30 V203.00 H327.50 V212.80 H369.10 V213.90 H370.20 V216.20 H424.60 V217.50 H428.00 V224.60 H437.00 V226.90 H440.00 V231.50 H470.00 V231.50" stroke="#6a6a6a" stroke-width="0.8" fill="none" stroke-dasharray="1.2 0.9"/>
<path d="M411.00,216.20h2.0M412.00,215.20v2.0M415.00,216.20h2.0M416.00,215.20v2.0M419.00,216.20h2.0M420.00,215.20v2.0M423.60,217.50h2.0M424.60,216.50v2.0" stroke="#777" stroke-width="0.8" fill="none"/>
<path d="M288.80,196.20 H301.00 V197.80 H304.50 V198.90 H306.20 V200.30 H307.90 V201.00 H329.30 V202.40 H330.40 V203.00 H337.90 V204.70 H338.50 V207.00 H342.50 V208.20 H352.90 V209.30 H372.50 V212.00 H397.70 V213.80 H403.10 V214.60 H406.90 V216.20 H409.20 V219.20 H413.80 V220.00 H430.80 V221.50 H433.80 V223.00 H438.50 V224.60 H441.50 V231.50 H481.50 V231.50" stroke="#3a3a3a" stroke-width="0.9" fill="none"/>
<path d="M381.30,212.00h2.0M382.30,211.00v2.0M385.90,212.00h2.0M386.90,211.00v2.0M389.80,212.00h2.0M390.80,211.00v2.0M395.20,212.00h2.0M396.20,211.00v2.0M415.90,220.00h2.0M416.90,219.00v2.0M419.00,220.00h2.0M420.00,219.00v2.0M422.10,220.00h2.0M423.10,219.00v2.0M425.20,220.00h2.0M426.20,219.00v2.0M427.50,220.00h2.0M428.50,219.00v2.0M429.80,221.50h2.0M430.80,220.50v2.0M443.60,231.50h2.0M444.60,230.50v2.0M446.70,231.50h2.0M447.70,230.50v2.0M449.80,231.50h2.0M450.80,230.50v2.0M452.80,231.50h2.0M453.80,230.50v2.0M455.90,231.50h2.0M456.90,230.50v2.0M460.00,231.50h2.0M461.00,230.50v2.0M464.00,231.50h2.0M465.00,230.50v2.0M469.00,231.50h2.0M470.00,230.50v2.0M474.00,231.50h2.0M475.00,230.50v2.0M479.00,231.50h2.0M480.00,230.50v2.0" stroke="#333" stroke-width="0.8" fill="none"/><text x="2.75" y="9.7" font-size="10.8" font-weight="bold" fill="#111">A</text>
<rect x="12.0" y="3.3" width="1.0" height="6.2" fill="#111"/>
<text x="263.3" y="11.3" font-size="11.0" font-weight="bold" fill="#111">B</text>
<rect x="273.0" y="4.6" width="1.0" height="6.700000000000001" fill="#111"/>
<text x="2.35" y="198.2" font-size="11.2" font-weight="bold" fill="#111">A</text>
<rect x="12.3" y="192.0" width="1.0" height="6.199999999999989" fill="#111"/>
<rect x="14.9" y="192.0" width="1.0" height="6.199999999999989" fill="#111"/>
<text x="263.5" y="200.4" font-size="11.0" font-weight="bold" fill="#111">B</text>
<rect x="272.3" y="193.8" width="1.0" height="6.599999999999994" fill="#111"/>
<rect x="275.1" y="193.8" width="1.0" height="6.599999999999994" fill="#111"/>
</svg>
</body></html>
